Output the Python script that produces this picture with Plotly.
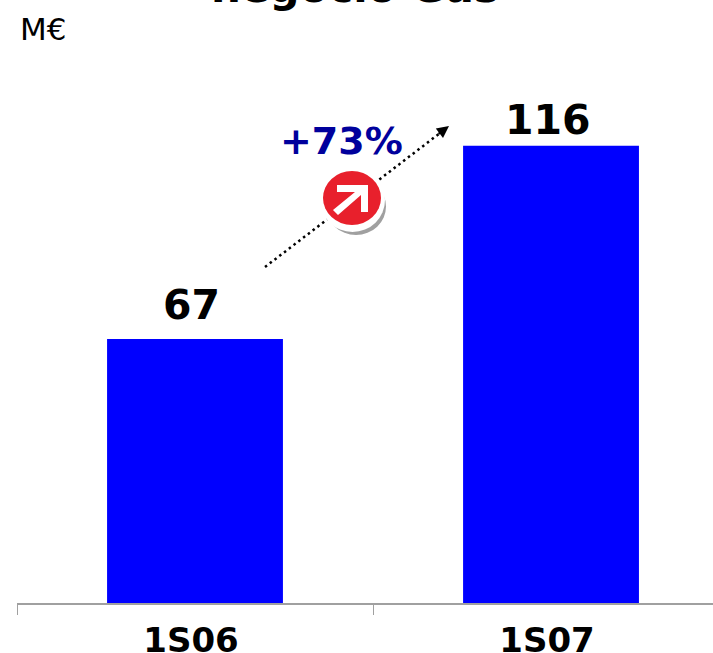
import plotly.graph_objects as go

categories = ["1S06", "1S07"]
values = [67, 116]
title_text = "negocio Gas"
unit_text = "M€"
growth_text = "+73%"

W, H = 713, 653
L, R, T, B = 17, 0, 0, 50
PW, PH = W - L - R, H - T - B
FONT = "DejaVu Sans"
BLUE = "#0000ff"
LABEL_SHIFTS = [(-4, 18), (-3, 10)]


def px(x):
    return (x - L) / PW


def py(y):
    return 1 - (y - T) / PH


def rect(x0, y0, x1, y1, **kw):
    return dict(xref="paper", yref="paper", x0=px(x0), x1=px(x1), y0=py(y0), y1=py(y1), **kw)


def poly(points, **kw):
    d = "M " + " L ".join(f"{px(x):.5f},{py(y):.5f}" for x, y in points) + " Z"
    return dict(type="path", xref="paper", yref="paper", path=d, **kw)


shapes = [
    dict(type="line", **rect(265, 267, 444, 130), line=dict(color="black", width=2.5, dash="2.5px,3.5px"), layer="above"),
    dict(type="circle", **rect(326, 178, 386, 235), fillcolor="#a0a0a0", line=dict(width=0), layer="above"),
    dict(type="circle", **rect(320, 168, 385, 232), fillcolor="white", line=dict(width=0), layer="above"),
    dict(type="circle", **rect(323, 171, 381, 225), fillcolor="#e8202c", line=dict(width=0), layer="above"),
    poly([(337, 185), (368, 185), (368, 212), (361, 212), (361, 195), (338, 215), (333, 210), (355, 192), (337, 192)],
         fillcolor="white", line=dict(width=0), layer="above"),
]

annotations = [
    dict(text=title_text, xref="paper", yref="paper", x=px(355), y=py(14), xanchor="center", yanchor="bottom",
         showarrow=False, font=dict(family=FONT, size=42, color="black", weight="bold")),
    dict(text=unit_text, xref="paper", yref="paper", x=px(18), y=py(29), xanchor="left", yanchor="middle",
         showarrow=False, font=dict(family=FONT, size=31, color="black")),
    dict(text=growth_text, xref="paper", yref="paper", x=px(341), y=py(141), xanchor="center", yanchor="middle",
         showarrow=False, font=dict(family=FONT, size=38, color="#00009c", weight="bold")),
    dict(text="", xref="paper", yref="paper", axref="pixel", ayref="pixel", x=px(449), y=py(126), ax=-12, ay=9,
         showarrow=True, arrowhead=2, arrowsize=1.2, arrowwidth=2, arrowcolor="black"),
]
for cat, val, (dx, dy) in zip(categories, values, LABEL_SHIFTS):
    annotations.append(dict(
        text=str(val), x=cat, y=val, xref="x", yref="y", xanchor="center", yanchor="bottom",
        xshift=dx, yshift=dy - 10, showarrow=False,
        font=dict(family=FONT, size=41, color="black", weight="bold"),
    ))

fig = go.Figure(go.Bar(
    x=categories, y=values, width=0.494, marker=dict(color=BLUE, line=dict(width=0)),
))

fig.update_layout(
    width=W, height=H, margin=dict(l=L, r=R, t=T, b=B, pad=0), autosize=False,
    paper_bgcolor="white", plot_bgcolor="white", showlegend=False,
    shapes=shapes, annotations=annotations,
    xaxis=dict(type="category", range=[-0.5, 1.455], tickson="boundaries", ticks="outside", ticklen=10,
               tickcolor="#a0a0a0", tickwidth=1, showline=True, linecolor="#a0a0a0", linewidth=2, showgrid=False,
               ticklabelstandoff=6, ticklabelshift=-4,
               tickfont=dict(family=FONT, size=34, color="black", weight="bold"), automargin=False),
    yaxis=dict(range=[0, 153], visible=False, showgrid=False, zeroline=False),
)

fig.write_html("out.html", config=dict(displayModeBar=False),
               post_script="document.body.style.margin='0';document.documentElement.style.overflow='hidden';")
